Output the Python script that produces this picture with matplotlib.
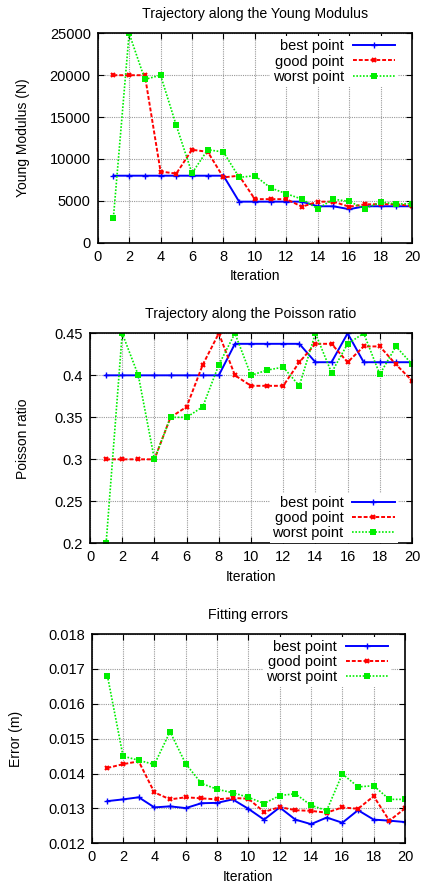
import matplotlib
matplotlib.use('Agg')
import matplotlib.pyplot as plt

plt.rcParams['font.family'] = ['Liberation Sans', 'DejaVu Sans']
plt.rcParams['font.size'] = 10

### Data

iterations = list(range(1, 21))

young_best = [8000, 8000, 8000, 8000, 8000, 8000, 8000, 8000, 4900, 4900,
              4900, 4900, 4900, 4350, 4350, 4000, 4350, 4350, 4350, 4350]
young_good = [20000, 20000, 20000, 8500, 8250, 11100, 10850, 7800, 8000, 5200,
              5200, 5200, 4300, 4900, 4900, 4300, 4580, 4600, 4600, 4380]
young_worst = [3000, 25000, 19500, 20000, 14000, 8300, 11100, 10830, 7800, 8000,
               6550, 5850, 5200, 4060, 5200, 4930, 4060, 4850, 4620, 4650]

poisson_best = [0.4, 0.4, 0.4, 0.4, 0.4, 0.4, 0.4, 0.4, 0.4375, 0.4375,
                0.4375, 0.4375, 0.4375, 0.4156, 0.4156, 0.45, 0.4156, 0.4156, 0.4156, 0.4156]
poisson_good = [0.3, 0.3, 0.3, 0.3, 0.35, 0.3625, 0.4125, 0.45, 0.4, 0.3875,
                0.3875, 0.3875, 0.4156, 0.4375, 0.4375, 0.4156, 0.4344, 0.4344, 0.413, 0.3937]
poisson_worst = [0.2, 0.45, 0.4, 0.3, 0.35, 0.35, 0.3625, 0.4125, 0.45, 0.4,
                 0.4062, 0.4097, 0.3875, 0.45, 0.4032, 0.4375, 0.45, 0.4012, 0.4344, 0.4133]

error_best = [0.01321, 0.01326, 0.01332, 0.01303, 0.01306, 0.01301, 0.01315, 0.01316, 0.01326, 0.01299,
              0.01268, 0.01303, 0.01268, 0.01255, 0.01274, 0.01259, 0.01295, 0.01268, 0.01265, 0.01261]
error_good = [0.01416, 0.01427, 0.01435, 0.01346, 0.01326, 0.01332, 0.01329, 0.01326, 0.0133, 0.01328,
              0.0129, 0.01304, 0.01295, 0.01293, 0.01288, 0.01303, 0.01299, 0.01335, 0.01265, 0.013]
error_worst = [0.01681, 0.0145, 0.01438, 0.01426, 0.0152, 0.01428, 0.01372, 0.01355, 0.01345, 0.01332,
               0.01314, 0.01337, 0.01342, 0.01309, 0.01294, 0.01399, 0.01362, 0.01365, 0.01326, 0.01326]

labels = ['best point', 'good point', 'worst point']

### Styles (gnuplot look)

styles = [
    dict(color='#0000ff', linestyle='-', marker='+', markersize=4, lw=1.4, mew=1),
    dict(color='#ff0000', linestyle=(0, (2, 1)), marker='x', markersize=3.5, lw=1.4, mew=1.5),
    dict(color='#00ee00', linestyle=(0, (1, 1)), marker='s', markersize=4, lw=1.2, mew=0),
]


def draw(ax, series, title, ylabel, ylim, yticks, yticklabels, legend_loc, legend_anchor, ylabel_x):
    for values, label, st in zip(series, labels, styles):
        ax.plot(iterations, values, label=label, **st)
    ax.set_xlim(0, 20)
    ax.set_xticks(range(0, 21, 2))
    ax.set_ylim(*ylim)
    ax.set_yticks(yticks)
    ax.set_yticklabels(yticklabels)
    ax.grid(True, color='#999999', linestyle=(0, (1, 1)), lw=0.8)
    ax.tick_params(direction='in', top=True, right=True, length=4, labelsize=10.5, pad=5)
    for s in ax.spines.values():
        s.set_linewidth(1.2)
    ax.set_title(title, fontsize=10.2, pad=11)
    ax.set_xlabel('Iteration', fontsize=10)
    ax.set_ylabel(ylabel, fontsize=10)
    ax.yaxis.set_label_coords(ylabel_x, 0.5)
    leg = ax.legend(loc=legend_loc, bbox_to_anchor=legend_anchor, markerfirst=False,
                    frameon=True, fancybox=False, edgecolor='none', facecolor='white',
                    framealpha=1, fontsize=10.5, handlelength=2.9, handletextpad=0.6,
                    labelspacing=0.08, borderpad=0.2, borderaxespad=0)
    leg.set_zorder(5)


fig = plt.figure(figsize=(4.27, 8.91), dpi=100)

ax1 = fig.add_axes([0.2288, 0.7276, 0.7361, 0.2350])
draw(ax1, [young_best, young_good, young_worst],
     'Trajectory along the Young Modulus', 'Young Modulus (N)',
     (0, 25000), range(0, 25001, 5000), [str(v) for v in range(0, 25001, 5000)],
     'upper right', (0.955, 0.985), -0.215)

ax2 = fig.add_axes([0.2108, 0.3902, 0.7541, 0.2357])
draw(ax2, [poisson_best, poisson_good, poisson_worst],
     'Trajectory along the Poisson ratio', 'Poisson ratio',
     (0.2, 0.45), [0.2, 0.25, 0.3, 0.35, 0.4, 0.45], ['0.2', '0.25', '0.3', '0.35', '0.4', '0.45'],
     'lower right', (0.955, 0.0), -0.186)

ax3 = fig.add_axes([0.2148, 0.0535, 0.7337, 0.2349])
draw(ax3, [error_best, error_good, error_worst],
     'Fitting errors', 'Error (m)',
     (0.012, 0.018), [0.012, 0.013, 0.014, 0.015, 0.016, 0.017, 0.018],
     ['0.012', '0.013', '0.014', '0.015', '0.016', '0.017', '0.018'],
     'upper right', (0.955, 0.985), -0.219)

fig.savefig('out.png', dpi=100)
